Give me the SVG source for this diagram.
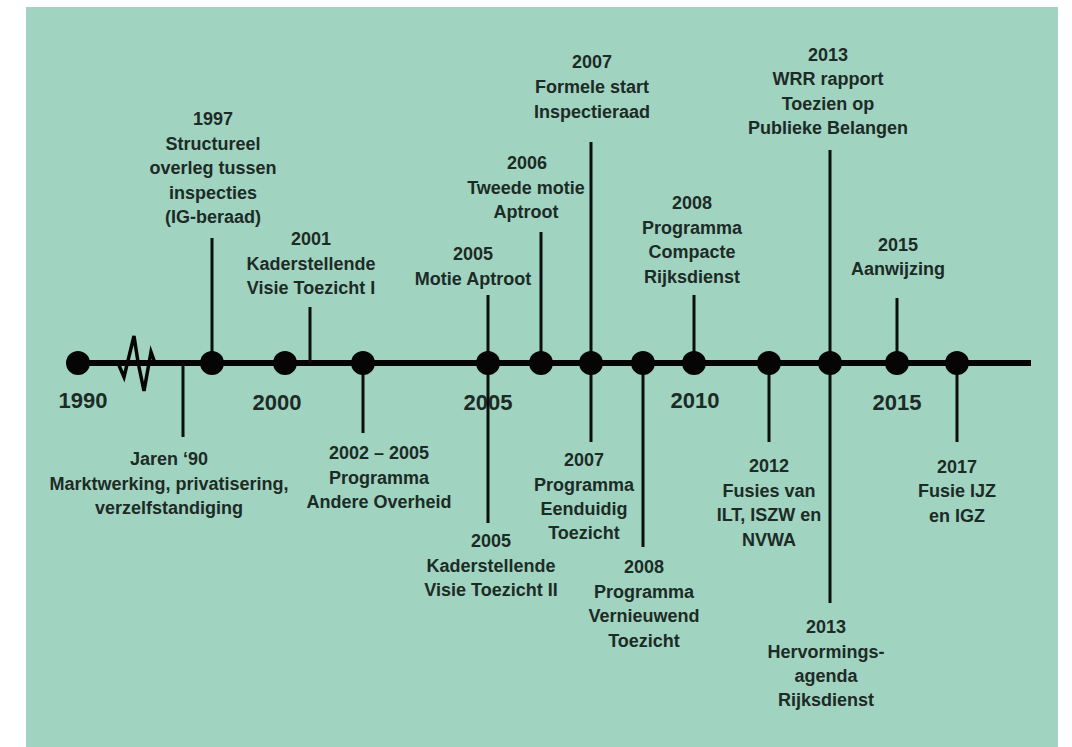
<svg xmlns="http://www.w3.org/2000/svg" width="1072" height="747" viewBox="0 0 1072 747">
<style>
.lbl{font-family:"Liberation Sans",Arial,sans-serif;font-weight:bold;font-size:18px;fill:#1d2b27;text-anchor:middle}
.yr{font-family:"Liberation Sans",Arial,sans-serif;font-weight:bold;font-size:22px;fill:#1d2b27;text-anchor:middle}
.con{stroke:#0b0f0e;stroke-width:3;fill:none}
.axis{stroke:#050505;stroke-width:6;fill:none}
.dot{fill:#050505}
</style>
<rect x="0" y="0" width="1072" height="747" fill="#ffffff"/>
<rect x="26" y="7" width="1032" height="740" fill="#a0d4c0"/>
<g id="years">
<text class="yr" x="83" y="408">1990</text>
<text class="yr" x="277" y="410">2000</text>
<text class="yr" x="488" y="410">2005</text>
<text class="yr" x="695" y="408">2010</text>
<text class="yr" x="897" y="410">2015</text>
</g>
<g id="connectors">
<line class="axis" x1="78" y1="363" x2="1031" y2="363"/>
<path d="M118,363 L124,377 L134,336 L138,362 L144,391 L151,352 L155,363" stroke="#050505" stroke-width="3.5" fill="none" stroke-linejoin="miter"/>
<line class="con" x1="183" y1="363" x2="183" y2="437"/>
<line class="con" x1="212" y1="238" x2="212" y2="363"/>
<line class="con" x1="310" y1="307" x2="310" y2="363"/>
<line class="con" x1="363" y1="363" x2="363" y2="433"/>
<line class="con" x1="488" y1="295" x2="488" y2="523"/>
<line class="con" x1="541" y1="232" x2="541" y2="363"/>
<line class="con" x1="591" y1="142" x2="591" y2="442"/>
<line class="con" x1="643" y1="363" x2="643" y2="547"/>
<line class="con" x1="694" y1="295" x2="694" y2="363"/>
<line class="con" x1="769" y1="363" x2="769" y2="442"/>
<line class="con" x1="830" y1="150" x2="830" y2="603"/>
<line class="con" x1="897" y1="298" x2="897" y2="363"/>
<line class="con" x1="957" y1="363" x2="957" y2="442"/>
</g>
<g id="n1990"><circle class="dot" cx="78" cy="363" r="12"/></g>
<g id="n2000"><circle class="dot" cx="285" cy="363" r="12"/></g>
<g id="n1997">
<circle class="dot" cx="212" cy="363" r="12"/>
<text class="lbl" x="213" y="125">1997</text>
<text class="lbl" x="213" y="149.5">Structureel</text>
<text class="lbl" x="213" y="174">overleg tussen</text>
<text class="lbl" x="213" y="198.5">inspecties</text>
<text class="lbl" x="213" y="223">(IG-beraad)</text>
</g>
<g id="n2001">
<text class="lbl" x="311" y="245">2001</text>
<text class="lbl" x="311" y="270">Kaderstellende</text>
<text class="lbl" x="311" y="294">Visie Toezicht I</text>
</g>
<g id="n2005a">
<circle class="dot" cx="488" cy="363" r="12"/>
<text class="lbl" x="473" y="260">2005</text>
<text class="lbl" x="473" y="285">Motie Aptroot</text>
</g>
<g id="n2006">
<circle class="dot" cx="541" cy="363" r="12"/>
<text class="lbl" x="527" y="169">2006</text>
<text class="lbl" x="526" y="194">Tweede motie</text>
<text class="lbl" x="526" y="218">Aptroot</text>
</g>
<g id="n2007a">
<circle class="dot" cx="591" cy="363" r="12"/>
<text class="lbl" x="592" y="68">2007</text>
<text class="lbl" x="592" y="93">Formele start</text>
<text class="lbl" x="592" y="118">Inspectieraad</text>
</g>
<g id="n2008a">
<circle class="dot" cx="694" cy="363" r="12"/>
<text class="lbl" x="692" y="209">2008</text>
<text class="lbl" x="692" y="234">Programma</text>
<text class="lbl" x="692" y="258">Compacte</text>
<text class="lbl" x="692" y="283">Rijksdienst</text>
</g>
<g id="n2013a">
<circle class="dot" cx="830" cy="363" r="12"/>
<text class="lbl" x="828" y="61">2013</text>
<text class="lbl" x="828" y="85">WRR rapport</text>
<text class="lbl" x="828" y="110">Toezien op</text>
<text class="lbl" x="828" y="134">Publieke Belangen</text>
</g>
<g id="n2015">
<circle class="dot" cx="897" cy="363" r="12"/>
<text class="lbl" x="898" y="251">2015</text>
<text class="lbl" x="898" y="275">Aanwijzing</text>
</g>
<g id="n1990s">
<text class="lbl" x="169" y="465">Jaren ‘90</text>
<text class="lbl" x="169" y="490">Marktwerking, privatisering,</text>
<text class="lbl" x="169" y="514">verzelfstandiging</text>
</g>
<g id="n2002">
<circle class="dot" cx="363" cy="363" r="12"/>
<text class="lbl" x="379" y="459">2002 – 2005</text>
<text class="lbl" x="379" y="484">Programma</text>
<text class="lbl" x="379" y="508">Andere Overheid</text>
</g>
<g id="n2005b">
<text class="lbl" x="491" y="547">2005</text>
<text class="lbl" x="491" y="572">Kaderstellende</text>
<text class="lbl" x="491" y="596">Visie Toezicht II</text>
</g>
<g id="n2007b">
<text class="lbl" x="584" y="466">2007</text>
<text class="lbl" x="584" y="491">Programma</text>
<text class="lbl" x="584" y="515">Eenduidig</text>
<text class="lbl" x="584" y="539">Toezicht</text>
</g>
<g id="n2008b">
<circle class="dot" cx="643" cy="363" r="12"/>
<text class="lbl" x="644" y="573">2008</text>
<text class="lbl" x="644" y="598">Programma</text>
<text class="lbl" x="644" y="622">Vernieuwend</text>
<text class="lbl" x="644" y="647">Toezicht</text>
</g>
<g id="n2012">
<circle class="dot" cx="769" cy="363" r="12"/>
<text class="lbl" x="769" y="472">2012</text>
<text class="lbl" x="769" y="497">Fusies van</text>
<text class="lbl" x="769" y="521">ILT, ISZW en</text>
<text class="lbl" x="769" y="546">NVWA</text>
</g>
<g id="n2013b">
<text class="lbl" x="826" y="633">2013</text>
<text class="lbl" x="826" y="658">Hervormings-</text>
<text class="lbl" x="826" y="682">agenda</text>
<text class="lbl" x="826" y="706">Rijksdienst</text>
</g>
<g id="n2017">
<circle class="dot" cx="957" cy="363" r="12"/>
<text class="lbl" x="957" y="473">2017</text>
<text class="lbl" x="957" y="497">Fusie IJZ</text>
<text class="lbl" x="957" y="522">en IGZ</text>
</g>
</svg>
